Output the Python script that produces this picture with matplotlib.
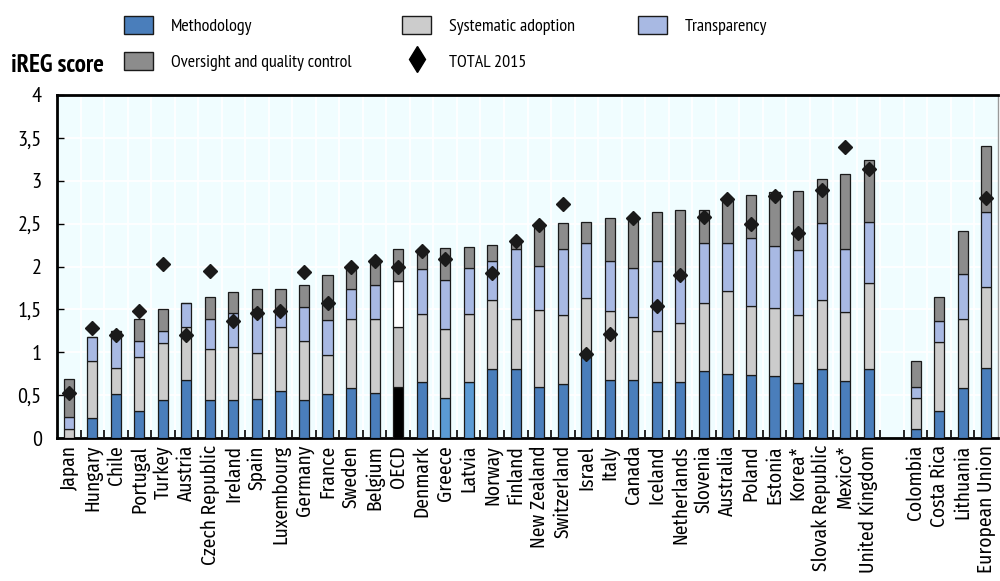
import numpy as np
import matplotlib
matplotlib.use("Agg")
import matplotlib.pyplot as plt
from matplotlib.patches import Patch
from matplotlib.lines import Line2D

plt.rcParams['font.family'] = ['PT Sans Narrow', 'DejaVu Sans']
label_font = ['Fira Sans Condensed', 'DejaVu Sans']

countries = ["Japan", "Hungary", "Chile", "Portugal", "Turkey", "Austria", "Czech Republic",
             "Ireland", "Spain", "Luxembourg", "Germany", "France", "Sweden", "Belgium", "OECD",
             "Denmark", "Greece", "Latvia", "Norway", "Finland", "New Zealand", "Switzerland",
             "Israel", "Italy", "Canada", "Iceland", "Netherlands", "Slovenia", "Australia",
             "Poland", "Estonia", "Korea*", "Slovak Republic", "Mexico*", "United Kingdom",
             "Colombia", "Costa Rica", "Lithuania", "European Union"]

methodology = [0.00, 0.23, 0.51, 0.32, 0.44, 0.68, 0.44, 0.44, 0.45, 0.55, 0.44, 0.51, 0.58, 0.52,
               0.60, 0.65, 0.47, 0.65, 0.81, 0.81, 0.60, 0.63, 0.94, 0.68, 0.68, 0.65, 0.65, 0.78,
               0.75, 0.74, 0.72, 0.64, 0.81, 0.66, 0.81, 0.10, 0.32, 0.58, 0.82]
systematic = [0.105, 0.67, 0.31, 0.63, 0.67, 0.62, 0.60, 0.62, 0.54, 0.74, 0.69, 0.46, 0.81, 0.87,
              0.70, 0.80, 0.80, 0.80, 0.80, 0.58, 0.89, 0.80, 0.69, 0.80, 0.73, 0.60, 0.69, 0.80,
              0.96, 0.80, 0.80, 0.80, 0.80, 0.81, 1.00, 0.37, 0.80, 0.81, 0.94]
transparency = [0.145, 0.28, 0.43, 0.18, 0.14, 0.28, 0.35, 0.40, 0.52, 0.21, 0.40, 0.41, 0.35, 0.39,
                0.53, 0.52, 0.57, 0.53, 0.45, 0.82, 0.52, 0.77, 0.65, 0.59, 0.57, 0.82, 0.54, 0.70,
                0.57, 0.79, 0.72, 0.75, 0.90, 0.74, 0.71, 0.12, 0.24, 0.52, 0.87]
oversight = [0.44, 0.00, 0.00, 0.26, 0.26, 0.00, 0.25, 0.24, 0.23, 0.24, 0.25, 0.52, 0.26, 0.27,
             0.37, 0.24, 0.38, 0.25, 0.19, 0.10, 0.46, 0.31, 0.24, 0.50, 0.57, 0.57, 0.78, 0.38,
             0.51, 0.50, 0.63, 0.69, 0.51, 0.87, 0.72, 0.31, 0.28, 0.50, 0.78]
total_2015 = [0.53, 1.28, 1.20, 1.48, 2.03, 1.20, 1.95, 1.37, 1.46, 1.48, 1.94, 1.58, 2.00, 2.07,
              2.00, 2.18, 2.09, np.nan, 1.93, 2.30, 2.48, 2.73, 0.98, 1.21, 2.57, 1.54, 1.90, 2.58,
              2.79, 2.50, 2.82, 2.39, 2.89, 3.39, 3.14, np.nan, np.nan, np.nan, 2.80]

# 35 OECD-area bars, one empty slot, then 4 others
x = np.array(list(range(35)) + [36, 37, 38, 39])

c_meth = "#4a7ebb"
c_meth_light = "#5b9bd5"
c_sys = "#cccccc"
c_tr = "#a8b9e3"
c_ov = "#8c8c8c"

meth_colors = [c_meth] * len(countries)
sys_colors = [c_sys] * len(countries)
tr_colors = [c_tr] * len(countries)
ov_colors = [c_ov] * len(countries)
for name in ["Greece", "Latvia"]:
    meth_colors[countries.index(name)] = c_meth_light
i = countries.index("OECD")
meth_colors[i] = "black"
sys_colors[i] = "#c0c0c0"
tr_colors[i] = "white"

fig = plt.figure(figsize=(10, 5.81), dpi=100)
ax = fig.add_axes([0.057, 0.246, 0.941, 0.5905])
ax.set_facecolor("#f0fdff")

w = 0.43
m = np.array(methodology)
s = np.array(systematic)
t = np.array(transparency)
o = np.array(oversight)
kw = dict(width=w, edgecolor="#1a1a1a", linewidth=0.9, zorder=3)
ax.bar(x, m, color=meth_colors, **kw)
ax.bar(x, s, bottom=m, color=sys_colors, **kw)
ax.bar(x, t, bottom=m + s, color=tr_colors, **kw)
ax.bar(x, o, bottom=m + s + t, color=ov_colors, **kw)
ax.plot(x, total_2015, linestyle="none", marker="D", markersize=7.5, color="#1a1a1a", zorder=5)

ax.set_xlim(-0.5, 39.5)
ax.set_ylim(0, 4)
ax.set_yticks(np.arange(0, 4.01, 0.5))
ax.set_yticklabels(["0", "0,5", "1", "1,5", "2", "2,5", "3", "3,5", "4"], fontsize=16)
ax.set_xticks(x)
ax.set_xticklabels(countries, rotation=90, fontsize=14, family=label_font)
ax.tick_params(axis="x", length=0, pad=5)
ax.tick_params(axis="y", direction="in", length=5, width=1, pad=11)

# minor ticks at slot boundaries, used for white grid and small marks
ax.set_xticks(np.arange(0.5, 39.5, 1), minor=True)
ax.tick_params(axis="x", which="minor", direction="in", length=6, width=1.2)
ax.grid(True, which="minor", axis="x", color="white", linewidth=1.3, zorder=0)
ax.grid(True, which="major", axis="y", color="white", linewidth=1.3, zorder=0)
ax.set_axisbelow(True)

for side in ["left", "bottom", "top"]:
    ax.spines[side].set_linewidth(2)
ax.spines["right"].set_linewidth(1)
ax.spines["right"].set_color("#999999")

fig.text(0.011, 0.888, "iREG score", fontsize=18, fontweight="bold", va="center")

h_meth = Patch(facecolor=c_meth, edgecolor="#1a1a1a")
h_ov = Patch(facecolor=c_ov, edgecolor="#1a1a1a")
h_sys = Patch(facecolor=c_sys, edgecolor="#1a1a1a")
h_tot = Line2D([], [], linestyle="none", marker="d", markersize=13, color="black")
h_tr = Patch(facecolor=c_tr, edgecolor="#1a1a1a")

lkw = dict(frameon=False, fontsize=13, handlelength=1.6, handleheight=1.2,
           handletextpad=1.0, labelspacing=0.9, borderaxespad=0, loc="upper left")
fig.legend([h_meth, h_ov], ["Methodology", "Oversight and quality control"],
           bbox_to_anchor=(0.117, 0.985), **lkw)
fig.legend([h_sys, h_tot], ["Systematic adoption", "TOTAL 2015"],
           bbox_to_anchor=(0.395, 0.985), **lkw)
fig.legend([h_tr], ["Transparency"], bbox_to_anchor=(0.631, 0.985), **lkw)

fig.savefig("out.png", dpi=100)
